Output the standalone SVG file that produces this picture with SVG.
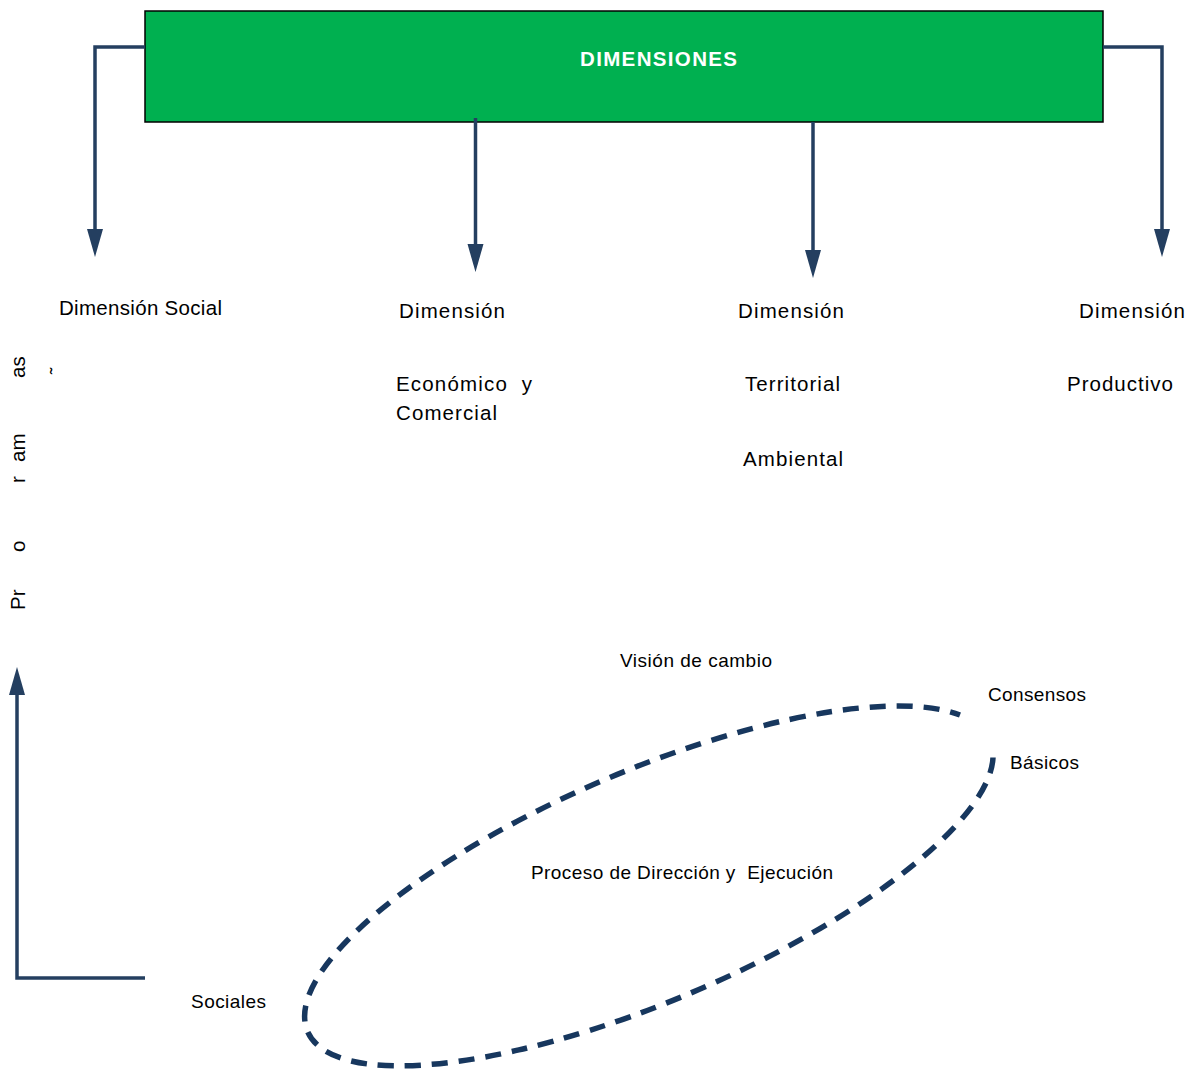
<svg xmlns="http://www.w3.org/2000/svg" width="1193" height="1073" viewBox="0 0 1193 1073">
<defs>
<style>
.t{font-family:"Liberation Sans",Arial,sans-serif;fill:#000;}
.big{font-size:20.5px;}
.sm{font-size:19px;}
.conn{fill:none;stroke:#243F60;stroke-width:3.5;}
</style>
<marker id="ah" markerUnits="userSpaceOnUse" markerWidth="30" markerHeight="18" refX="0" refY="8" orient="auto" overflow="visible">
<path d="M0,0 L28,8 L0,16 z" fill="#243F60"/>
</marker>
</defs>
<rect width="1193" height="1073" fill="#fff"/>
<g id="dimensiones">
<rect x="145" y="11" width="958" height="111" fill="#00B050" stroke="#000" stroke-width="1.5"/>
<text class="t" x="580" y="66" font-size="20.5" font-weight="bold" style="fill:#fff" textLength="157" lengthAdjust="spacing">DIMENSIONES</text>
</g>
<g id="connectors">
<path class="conn" d="M145,47 H95 V229" marker-end="url(#ah)"/>
<path class="conn" d="M475.5,118 V244" marker-end="url(#ah)"/>
<path class="conn" d="M813,122 V250" marker-end="url(#ah)"/>
<path class="conn" d="M1103,47 H1162 V229" marker-end="url(#ah)"/>
<path class="conn" d="M145,978 H17 V695" marker-end="url(#ah)"/>
</g>
<g id="dim-social">
<text class="t big" x="59" y="315" textLength="163" lengthAdjust="spacing">Dimensión Social</text>
</g>
<g id="dim-economico">
<text class="t big" x="399" y="318" textLength="106" lengthAdjust="spacing">Dimensión</text>
<text class="t big" x="396" y="391" textLength="136" lengthAdjust="spacing" xml:space="preserve">Económico  y</text>
<text class="t big" x="396" y="420" textLength="101" lengthAdjust="spacing">Comercial</text>
</g>
<g id="dim-territorial">
<text class="t big" x="738" y="318" textLength="106" lengthAdjust="spacing">Dimensión</text>
<text class="t big" x="745" y="391" textLength="95" lengthAdjust="spacing">Territorial</text>
<text class="t big" x="743" y="466" textLength="100" lengthAdjust="spacing">Ambiental</text>
</g>
<g id="dim-productivo">
<text class="t big" x="1079" y="318" textLength="106" lengthAdjust="spacing">Dimensión</text>
<text class="t big" x="1067" y="391" textLength="106" lengthAdjust="spacing">Productivo</text>
</g>
<g id="programas">
<g transform="translate(25,610) rotate(-90)">
<text class="t big" x="0" y="0">Pr</text>
<text class="t big" x="58" y="0">o</text>
<text class="t big" x="127" y="0">r</text>
<text class="t big" x="148" y="0">am</text>
<text class="t big" x="232" y="0">as</text>
</g>
<text class="t sm" transform="translate(63,374) rotate(-90)" x="0" y="0">˜</text>
</g>
<g id="proceso">
<path d="M993,757.5 A371,115 -23.1 1 1 960,715" fill="none" stroke="#17375E" stroke-width="5.5" stroke-dasharray="16 11"/>
<text class="t sm" x="620" y="667" textLength="152" lengthAdjust="spacing">Visión de cambio</text>
<text class="t sm" x="988" y="701" textLength="98" lengthAdjust="spacing">Consensos</text>
<text class="t sm" x="1010" y="769" textLength="69" lengthAdjust="spacing">Básicos</text>
<text class="t sm" x="531" y="879" textLength="302" lengthAdjust="spacing" xml:space="preserve">Proceso de Dirección y  Ejecución</text>
<text class="t sm" x="191" y="1008" textLength="75" lengthAdjust="spacing">Sociales</text>
</g>
</svg>
